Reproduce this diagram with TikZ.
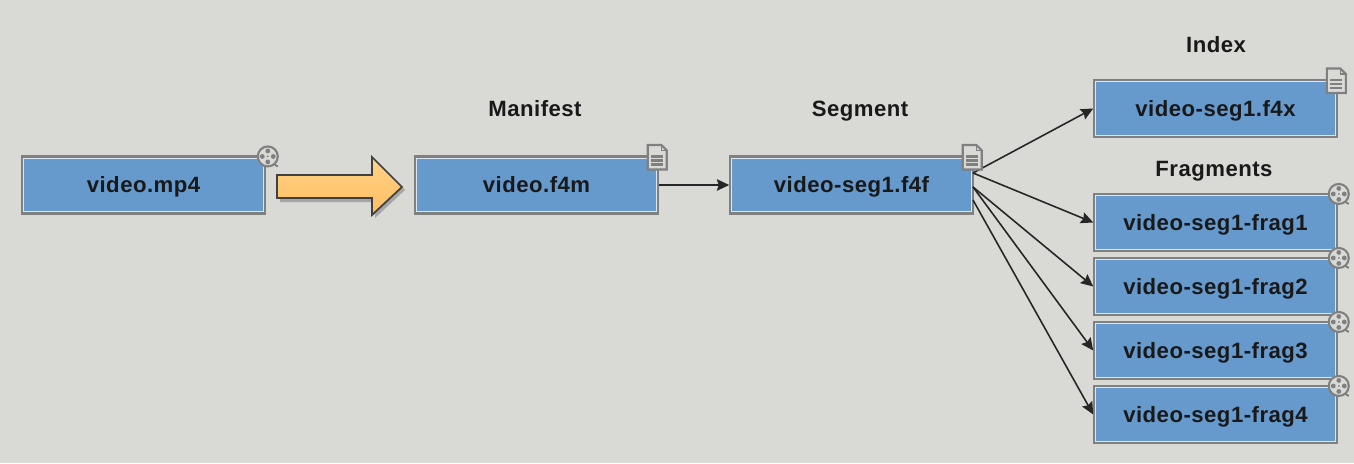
\documentclass[tikz,border=0pt]{standalone}
\usepackage{fontspec}
\setmainfont{Liberation Sans}
\newfontfamily\labelfont[LetterSpace=2.2]{Liberation Sans}
\usetikzlibrary{arrows.meta}
\definecolor{canvas}{HTML}{D9DAD5}
\definecolor{boxblue}{HTML}{6699CC}
\definecolor{boxedge}{HTML}{808080}
\definecolor{boxlight}{HTML}{DCE6F0}
\definecolor{iconedge}{HTML}{808080}
\definecolor{arrowtop}{HTML}{FFD487}
\definecolor{arrowbot}{HTML}{FFBC62}
\tikzset{
    filmicon/.pic={
        \draw [iconedge, line width = 1.1] (5, 7) -- (10, 10);
        \draw [iconedge, fill = canvas, line width = 1.2] (0, 0) circle (10);
        \fill [iconedge] (0, -5.5) circle (2.4);
        \fill [iconedge] (0, 5.5) circle (2.4);
        \fill [iconedge] (-5.5, 0) circle (2.4);
        \fill [iconedge] (5.5, 0) circle (2.4);
        \fill [iconedge] (0, 0) circle (1);
    },
    docicon/.pic={
        \draw [iconedge, fill = canvas, line width = 1.2] (-9.5, -12) -- (4, -12) -- (9.5, -6.5) -- (9.5, 12.5) -- (-9.5, 12.5) -- cycle;
        \draw [iconedge, line width = 0.8] (4, -12) -- (4, -6.5) -- (9.5, -6.5);
        \foreach \rowy in {-0.5, 3.5, 7.5}
            \draw [iconedge, line width = 1.2] (-6, \rowy) -- (6, \rowy);
    }
}
\begin{document}
\begin{tikzpicture}[x = 0.02cm, y = -0.02cm]
    \tikzstyle{box} = [draw = boxedge, fill = boxblue, line width = 1.2pt, minimum width = 4.85cm, minimum height = 1.14cm, inner sep = 0pt, text height = 9.5pt, text depth = 0.5pt, font = \labelfont\bfseries\fontsize{12.6}{14}\selectfont, text = black!90]
    \tikzstyle{heading} = [text height = 9.5pt, text depth = 0.5pt, font = \labelfont\bfseries\fontsize{12.6}{14}\selectfont, text = black!90]
    \tikzstyle{arrow} = [draw = black!85, line width = 0.9pt, -{Stealth[length = 7pt, width = 6.5pt, inset = 1pt]}]
    \tikzstyle{bigarrow} = [draw = black!75, line width = 1pt, top color = arrowtop, bottom color = arrowbot]

    \fill [canvas] (0, 0) rectangle (1354, 463);

    \node [box] (mp4) at (143.5, 185) {video.mp4};
    \node [box] (manifest) at (536.5, 185) {video.f4m};
    \node [box] (segment) at (851.5, 185) {video-seg1.f4f};
    \node [box] (index) at (1215.5, 108.5) {video-seg1.f4x};
    \node [box] (frag1) at (1215.5, 222.5) {video-seg1-frag1};
    \node [box] (frag2) at (1215.5, 286.5) {video-seg1-frag2};
    \node [box] (frag3) at (1215.5, 350.5) {video-seg1-frag3};
    \node [box] (frag4) at (1215.5, 414.5) {video-seg1-frag4};

    \foreach \name in {mp4, manifest, segment, index, frag1, frag2, frag3, frag4}
        \draw [boxlight, line width = 0.6pt] ([shift = {(2.6, 2.6)}]\name.north west) rectangle ([shift = {(-2.6, -2.6)}]\name.south east);

    \node [heading] (manifesttitle) at (535, 109) {Manifest};
    \node [heading] (segmenttitle) at (860, 109) {Segment};
    \node [heading] (indextitle) at (1216, 45) {Index};
    \node [heading] (fragtitle) at (1214, 169) {Fragments};

    % big arrow and its shadow
    \fill [black!35] (280, 178) -- (375, 178) -- (375, 160) -- (405, 190) -- (375, 218) -- (375, 202) -- (280, 202) -- cycle;
    \draw [bigarrow] (277, 175) -- (372, 175) -- (372, 157) -- (402, 187) -- (372, 215) -- (372, 198) -- (277, 198) -- cycle;

    \coordinate (segout1) at (973, 173);
    \coordinate (segout2) at (973, 187);
    \coordinate (segout3) at (973, 200);

    \draw [arrow] (manifest.east) -- (segment.west);
    \draw [arrow] (segout1) -- (index.west);
    \draw [arrow] (segout1) -- (frag1.west);
    \draw [arrow] (segout2) -- (frag2.west);
    \draw [arrow] (segout2) -- (frag3.west);
    \draw [arrow] (segout3) -- (frag4.west);

    \pic at ([shift = {(2, 1)}]mp4.north east) {filmicon};
    \pic at ([shift = {(1, 1)}]frag1.north east) {filmicon};
    \pic at ([shift = {(1, 1)}]frag2.north east) {filmicon};
    \pic at ([shift = {(1, 1)}]frag3.north east) {filmicon};
    \pic at ([shift = {(1, 1)}]frag4.north east) {filmicon};
    \pic at ([shift = {(-1.5, 1.5)}]manifest.north east) {docicon};
    \pic at ([shift = {(-1.5, 1.5)}]segment.north east) {docicon};
    \pic at ([shift = {(-1.5, 1.5)}]index.north east) {docicon};

    \useasboundingbox (0, 0) rectangle (1354, 463);
\end{tikzpicture}
\end{document}
